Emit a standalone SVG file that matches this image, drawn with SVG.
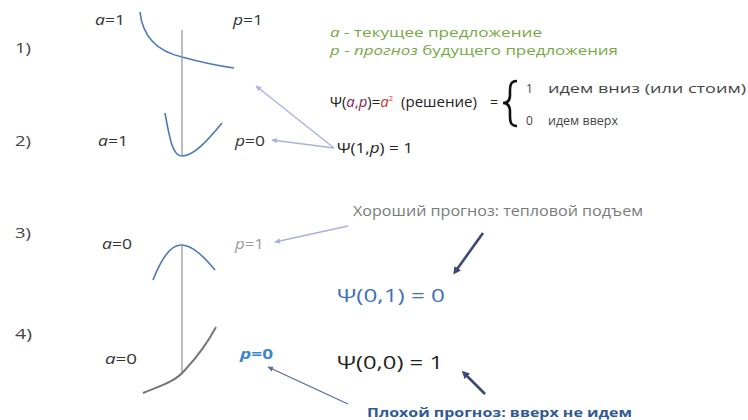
<svg xmlns="http://www.w3.org/2000/svg" width="748" height="420" viewBox="0 0 748 420">
<defs>
<style>
text{font-family:"Open Sans","Liberation Sans",sans-serif;}
.num{font-size:15px;fill:#444;}
.lbl{font-size:14px;fill:#333;}
.it{font-style:italic;}
.grn{font-size:13.5px;fill:#76a845;}
.eq{font-size:14px;fill:#222;}
.sm{font-size:12px;fill:#444;}
.big{font-size:19px;}
.axis{stroke:#9a9a9a;stroke-width:1.3;fill:none;}
.crv{stroke:#4a78b8;stroke-width:1.6;fill:none;}
.lav{stroke:#a9b0de;stroke-width:1.3;fill:none;}
.navy{stroke:#3c4a72;stroke-width:2.6;fill:none;}
</style>
<marker id="ahL" viewBox="0 0 10 10" refX="8" refY="5" markerWidth="5" markerHeight="5" orient="auto-start-reverse"><path d="M0,1 L9,5 L0,9 z" fill="#a9b0de"/></marker>
<marker id="ahB" viewBox="0 0 10 10" refX="8" refY="5" markerWidth="5" markerHeight="5" orient="auto-start-reverse"><path d="M0,1 L9,5 L0,9 z" fill="#5a6a9a"/></marker>
<marker id="ahN" viewBox="0 0 10 10" refX="6" refY="5" markerWidth="3" markerHeight="3" orient="auto-start-reverse"><path d="M0,0 L10,5 L0,10 z" fill="#3c4a72"/></marker>
</defs>
<rect width="748" height="420" fill="#ffffff"/>

<g id="case1">
<text class="num" x="15" y="53" textLength="16" lengthAdjust="spacingAndGlyphs">1)</text>
<text class="lbl" x="95" y="25" textLength="30" lengthAdjust="spacingAndGlyphs"><tspan class="it">a</tspan>=1</text>
<text class="lbl" x="233" y="25" textLength="30" lengthAdjust="spacingAndGlyphs"><tspan class="it">p</tspan>=1</text>
<path class="crv" d="M140,12 C143,40 160,52 182,57 C200,62 220,66 234,68"/>
</g>

<g id="axis1"><line class="axis" x1="182" y1="30" x2="182" y2="156"/></g>

<g id="case2">
<text class="num" x="15" y="146" textLength="16" lengthAdjust="spacingAndGlyphs">2)</text>
<text class="lbl" x="98" y="146" textLength="30" lengthAdjust="spacingAndGlyphs"><tspan class="it">a</tspan>=1</text>
<text class="lbl" x="235" y="146" textLength="30" lengthAdjust="spacingAndGlyphs"><tspan class="it">p</tspan>=0</text>
<path class="crv" d="M165,113 C169,135 172,156 182,156 C194,156 208,140 222,123"/>
</g>

<g id="case3">
<text class="num" x="15" y="238" textLength="16" lengthAdjust="spacingAndGlyphs">3)</text>
<text class="lbl" x="102" y="249" textLength="30" lengthAdjust="spacingAndGlyphs"><tspan class="it">a</tspan>=0</text>
<text class="lbl" x="235" y="249" textLength="29" lengthAdjust="spacingAndGlyphs" style="fill:#9a9a9a"><tspan class="it">p</tspan>=1</text>
<path class="crv" d="M153,280 C160,262 170,245 181,245 C193,245 205,258 215,270"/>
</g>

<g id="axis2"><line class="axis" x1="182" y1="245" x2="182" y2="372"/></g>

<g id="case4">
<text class="num" x="15" y="339" textLength="17" lengthAdjust="spacingAndGlyphs">4)</text>
<text class="lbl" x="105" y="364" textLength="32" lengthAdjust="spacingAndGlyphs"><tspan class="it">a</tspan>=0</text>
<text x="240" y="359" textLength="33" lengthAdjust="spacingAndGlyphs" style="font-size:14px;fill:#3d86cf;font-weight:bold"><tspan class="it">p</tspan>=0</text>
<path d="M143,393 C160,386 175,382 185,370 C198,356 208,342 216,327" fill="none" stroke="#777" stroke-width="2"/>
</g>

<g id="legend">
<text class="grn" x="330" y="37" textLength="212" lengthAdjust="spacingAndGlyphs"><tspan class="it">a</tspan> - текущее предложение</text>
<text class="grn" x="330" y="55" textLength="288" lengthAdjust="spacingAndGlyphs"><tspan class="it">p</tspan> - <tspan class="it">прогноз</tspan> будущего предложения</text>
</g>

<g id="formula">
<text class="eq" x="330" y="107" textLength="63" lengthAdjust="spacingAndGlyphs">Ψ(<tspan class="it" fill="#8b2252">a</tspan><tspan fill="#8b2252">,</tspan><tspan class="it" fill="#8b2252">p</tspan>)=<tspan class="it" fill="#d03030">a</tspan><tspan font-size="7" dy="-6" fill="#d03030">2</tspan></text>
<text class="eq" x="401" y="107" textLength="76" lengthAdjust="spacingAndGlyphs">(решение)</text>
<text class="eq" x="490" y="107">=</text>
<path d="M517,81 C509,81 510,88 510,95 C510,100 508,103 503,103 C508,103 510,106 510,112 C510,119 509,126 517,126" fill="none" stroke="#111" stroke-width="2.6"/>
<text class="sm" x="526" y="93">1</text>
<text class="sm" x="548" y="93" textLength="198" lengthAdjust="spacingAndGlyphs">идем вниз (или стоим)</text>
<text class="sm" x="526" y="125">0</text>
<text class="sm" x="548" y="125" textLength="70" lengthAdjust="spacingAndGlyphs">идем вверх</text>
</g>

<g id="psi1p">
<text class="eq" x="337" y="153" textLength="76" lengthAdjust="spacingAndGlyphs">Ψ(1,<tspan class="it">p</tspan>) = 1</text>
</g>

<g id="good">
<text x="353" y="216" style="font-size:14px;fill:#7a7a7a" textLength="290" lengthAdjust="spacingAndGlyphs">Хороший прогноз: тепловой подъем</text>
</g>

<g id="psi01">
<text class="big" x="337" y="302" fill="#4070b8" textLength="108" lengthAdjust="spacingAndGlyphs">Ψ(0,1) = 0</text>
</g>

<g id="psi00">
<text class="big" x="337" y="369" fill="#222" textLength="106" lengthAdjust="spacingAndGlyphs">Ψ(0,0) = 1</text>
</g>

<g id="bad">
<text x="367" y="417" style="font-size:13px;fill:#2f5a94;font-weight:bold" textLength="265" lengthAdjust="spacingAndGlyphs">Плохой прогноз: вверх не идем</text>
</g>

<g id="connectors">
<line class="lav" x1="334" y1="148" x2="256" y2="86" marker-end="url(#ahL)"/>
<line class="lav" x1="334" y1="148" x2="272" y2="140" marker-end="url(#ahL)"/>
<line class="lav" x1="348" y1="226" x2="275" y2="242" marker-end="url(#ahL)"/>
<line x1="348" y1="404" x2="268" y2="367" stroke="#5a6a9a" stroke-width="1.3" marker-end="url(#ahB)"/>
<line class="navy" x1="483" y1="233" x2="455" y2="272" marker-end="url(#ahN)"/>
<line class="navy" x1="485" y1="394" x2="464" y2="373" marker-end="url(#ahN)"/>
</g>
</svg>
